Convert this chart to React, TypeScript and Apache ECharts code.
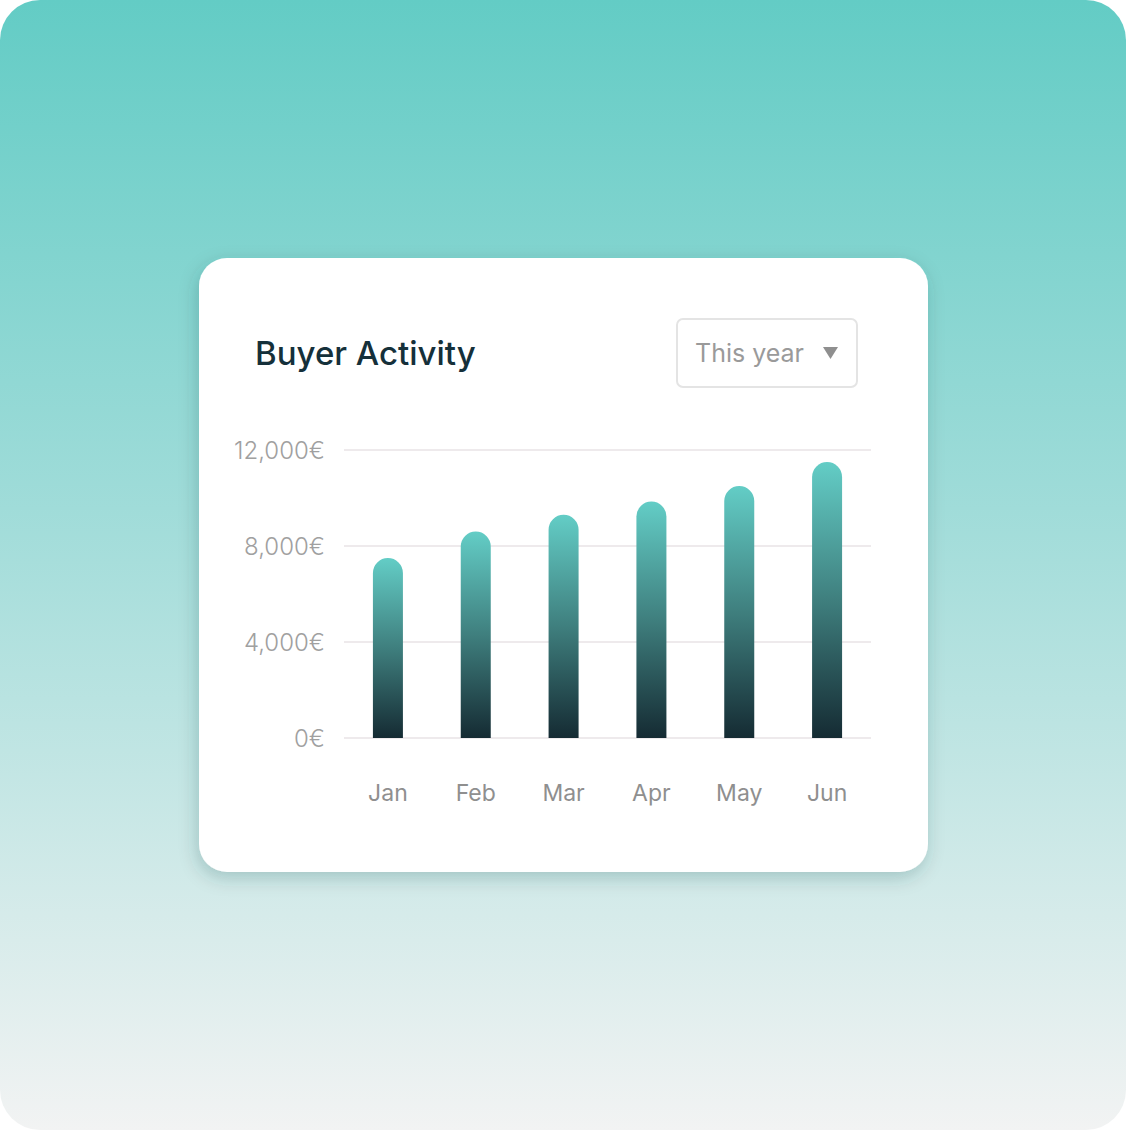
import React, { useEffect, useRef } from 'react';
import * as echarts from 'echarts';

const months = ['Jan', 'Feb', 'Mar', 'Apr', 'May', 'Jun'];
const activity = [7500, 8600, 9300, 9850, 10500, 11500];
const yTicks = [0, 4000, 8000, 12000];

const W = 1126;
const H = 1130;
const FONT = 'Inter, "Noto Sans", sans-serif';

export default function App() {
  const chartRef = useRef<HTMLDivElement>(null);

  useEffect(() => {
    if (!chartRef.current) return;
    const chart = echarts.init(chartRef.current, undefined, { renderer: 'svg' });

    const option = {
      animation: false,
      textStyle: { fontFamily: FONT },
      graphic: [
        {
          type: 'rect',
          z: -20,
          shape: { x: 0, y: 0, width: W, height: H, r: 40 },
          style: {
            fill: new echarts.graphic.LinearGradient(0, 0, 0, 1, [
              { offset: 0, color: '#63ccc5' },
              { offset: 0.45, color: '#a0dcd9' },
              { offset: 1, color: '#f2f3f3' },
            ]),
          },
        },
        {
          type: 'rect',
          z: -10,
          shape: { x: 199, y: 258, width: 729, height: 614, r: 28 },
          style: {
            fill: '#ffffff',
            shadowBlur: 18,
            shadowOffsetX: -2,
            shadowOffsetY: 6,
            shadowColor: 'rgba(20, 60, 60, 0.22)',
          },
        },
        {
          type: 'text',
          z: 10,
          x: 255,
          y: 353,
          style: {
            text: 'Buyer Activity',
            fontSize: 33,
            fontWeight: 500,
            fontFamily: FONT,
            fill: '#15303a',
            verticalAlign: 'middle',
          },
        },
        {
          type: 'rect',
          z: 10,
          shape: { x: 677, y: 319, width: 180, height: 68, r: 6 },
          style: { fill: '#ffffff', stroke: '#e4e4e4', lineWidth: 2 },
        },
        {
          type: 'text',
          z: 11,
          x: 695,
          y: 353,
          style: {
            text: 'This year',
            fontSize: 25,
            fontFamily: FONT,
            fill: '#9a9a9a',
            verticalAlign: 'middle',
          },
        },
        {
          type: 'polygon',
          z: 11,
          shape: { points: [[823, 347], [838, 347], [830.5, 359]] },
          style: { fill: '#8f8f8f' },
        },
      ],
      grid: { left: 344, right: 255, top: 450, bottom: 392, containLabel: false },
      xAxis: {
        type: 'category',
        data: months,
        axisLine: { show: false },
        axisTick: { show: false },
        axisLabel: { color: '#8f8f8f', fontSize: 23, margin: 43, fontFamily: FONT },
      },
      yAxis: {
        type: 'value',
        min: yTicks[0],
        max: yTicks[yTicks.length - 1],
        interval: yTicks[1] - yTicks[0],
        axisLine: { show: false },
        axisTick: { show: false },
        splitLine: { lineStyle: { color: '#eeeaec', width: 2 } },
        axisLabel: {
          color: '#a0a0a0',
          fontSize: 24,
          fontWeight: 300,
          margin: 19,
          fontFamily: FONT,
          formatter: (v: number) => v.toLocaleString('en-US') + '€',
        },
      },
      series: [
        {
          type: 'bar',
          data: activity,
          barWidth: 30,
          itemStyle: {
            borderRadius: [15, 15, 0, 0],
            color: new echarts.graphic.LinearGradient(0, 0, 0, 1, [
              { offset: 0, color: '#63cdc6' },
              { offset: 0.5, color: '#3f7f7e' },
              { offset: 1, color: '#152b33' },
            ]),
          },
        },
      ],
    };

    chart.setOption(option);
    return () => chart.dispose();
  }, []);

  return (
    <div
      ref={chartRef}
      style={{ position: 'absolute', left: 0, top: 0, width: W + 'px', height: H + 'px' }}
    />
  );
}
